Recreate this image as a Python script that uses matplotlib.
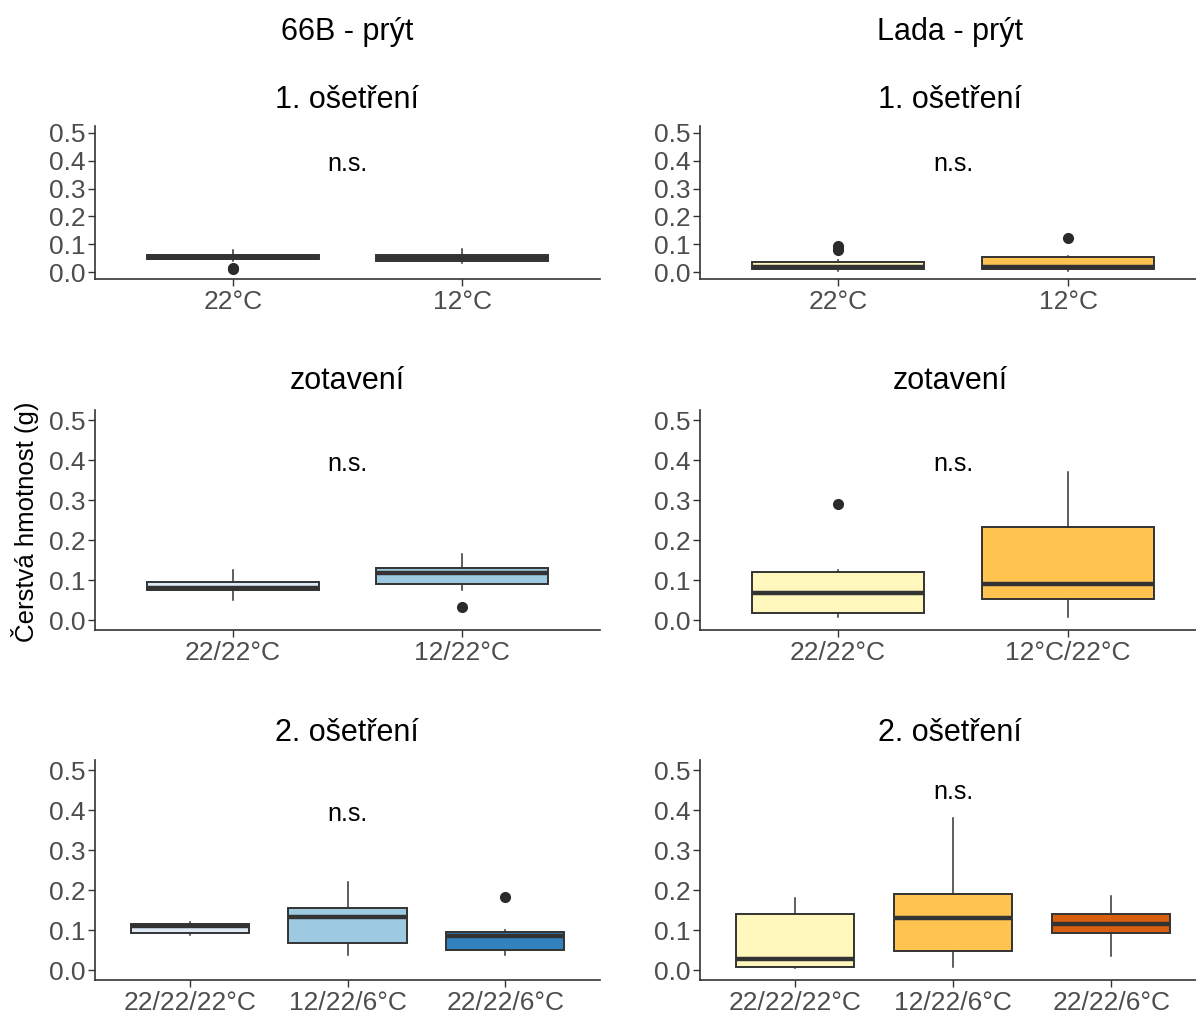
import matplotlib
matplotlib.use("Agg")
import matplotlib.pyplot as plt

plt.rcParams["font.family"] = ["Liberation Sans", "DejaVu Sans"]

# ---- data: fresh weight of shoots (g), box statistics per group ----
# 66B shoot, 1st treatment
b66_1_labels = ["22°C", "12°C"]
b66_1_whislo = [0.038, 0.033]
b66_1_q1 = [0.046, 0.040]
b66_1_med = [0.055, 0.050]
b66_1_q3 = [0.063, 0.062]
b66_1_whishi = [0.078, 0.083]
b66_1_fliers = [[0.010, 0.016], []]

# 66B shoot, recovery
b66_r_labels = ["22/22°C", "12/22°C"]
b66_r_whislo = [0.050, 0.076]
b66_r_q1 = [0.076, 0.091]
b66_r_med = [0.081, 0.118]
b66_r_q3 = [0.095, 0.129]
b66_r_whishi = [0.124, 0.165]
b66_r_fliers = [[], [0.032]]

# 66B shoot, 2nd treatment
b66_2_labels = ["22/22/22°C", "12/22/6°C", "22/22/6°C"]
b66_2_whislo = [0.0875, 0.0375, 0.0375]
b66_2_q1 = [0.0925, 0.0675, 0.050]
b66_2_med = [0.110, 0.133, 0.085]
b66_2_q3 = [0.115, 0.155, 0.096]
b66_2_whishi = [0.120, 0.221, 0.100]
b66_2_fliers = [[], [], [0.183]]

# Lada shoot, 1st treatment
lada_1_labels = ["22°C", "12°C"]
lada_1_whislo = [0.002, 0.005]
lada_1_q1 = [0.012, 0.012]
lada_1_med = [0.018, 0.018]
lada_1_q3 = [0.036, 0.055]
lada_1_whishi = [0.044, 0.058]
lada_1_fliers = [[0.078, 0.085, 0.093], [0.122]]

# Lada shoot, recovery
lada_r_labels = ["22/22°C", "12°C/22°C"]
lada_r_whislo = [0.007, 0.008]
lada_r_q1 = [0.017, 0.052]
lada_r_med = [0.068, 0.090]
lada_r_q3 = [0.120, 0.232]
lada_r_whishi = [0.124, 0.370]
lada_r_fliers = [[0.290], []]

# Lada shoot, 2nd treatment
lada_2_labels = ["22/22/22°C", "12/22/6°C", "22/22/6°C"]
lada_2_whislo = [0.004, 0.008, 0.035]
lada_2_q1 = [0.008, 0.047, 0.093]
lada_2_med = [0.027, 0.131, 0.116]
lada_2_q3 = [0.141, 0.190, 0.139]
lada_2_whishi = [0.181, 0.380, 0.185]
lada_2_fliers = [[], [], []]

blues = ["#DEEBF7", "#9ECAE1", "#3182BD"]
ylorbr = ["#FFF7BC", "#FEC44F", "#D95F0E"]

column_titles = ["66B - prýt", "Lada - prýt"]
row_titles = ["1. ošetření", "zotavení", "2. ošetření"]
ylabel = "Čerstvá hmotnost (g)"
ns_label = "n.s."
ns_y = [[0.39, 0.39, 0.39], [0.39, 0.39, 0.445]]

panels = [
    [
        (b66_1_labels, b66_1_whislo, b66_1_q1, b66_1_med, b66_1_q3, b66_1_whishi, b66_1_fliers),
        (b66_r_labels, b66_r_whislo, b66_r_q1, b66_r_med, b66_r_q3, b66_r_whishi, b66_r_fliers),
        (b66_2_labels, b66_2_whislo, b66_2_q1, b66_2_med, b66_2_q3, b66_2_whishi, b66_2_fliers),
    ],
    [
        (lada_1_labels, lada_1_whislo, lada_1_q1, lada_1_med, lada_1_q3, lada_1_whishi, lada_1_fliers),
        (lada_r_labels, lada_r_whislo, lada_r_q1, lada_r_med, lada_r_q3, lada_r_whishi, lada_r_fliers),
        (lada_2_labels, lada_2_whislo, lada_2_q1, lada_2_med, lada_2_q3, lada_2_whishi, lada_2_fliers),
    ],
]
palettes = [blues, ylorbr]

# ---- layout (pixels) ----
W, H = 1196, 1014
fig = plt.figure(figsize=(W / 100, H / 100), dpi=100)
fig.patch.set_facecolor("white")

# the right column's panel runs slightly past the right edge of the canvas
cols_px = [(95, 600), (700, 1206)]
title_x = [347, 950]
rows_px = [(126, 279), (410, 630), (760, 980)]
row_title_y = [100, 381, 733]
col_title_y = 32

LINE = "#333333"
TICK_TXT = "#4D4D4D"

for ci, (l, r) in enumerate(cols_px):
    fig.text(title_x[ci] / W, 1 - col_title_y / H, column_titles[ci],
             ha="center", va="center", fontsize=22, color="black")
    for ri, (t, b) in enumerate(rows_px):
        ax = fig.add_axes([l / W, 1 - b / H, (r - l) / W, (b - t) / H])
        labels, wlo, q1, med, q3, whi, fl = panels[ci][ri]
        n = len(labels)
        stats = []
        for i in range(n):
            stats.append(dict(whislo=wlo[i], q1=q1[i], med=med[i], q3=q3[i],
                              whishi=whi[i], fliers=fl[i], label=labels[i]))
        bp = ax.bxp(stats, positions=list(range(1, n + 1)), widths=0.75,
                    patch_artist=True, showcaps=False,
                    boxprops=dict(edgecolor=LINE, linewidth=1.4),
                    medianprops=dict(color=LINE, linewidth=3.2, solid_capstyle="butt"),
                    whiskerprops=dict(color=LINE, linewidth=1.1),
                    flierprops=dict(marker="o", markerfacecolor="#2B2B2B",
                                    markeredgecolor="#2B2B2B", markersize=7))
        for i, patch in enumerate(bp["boxes"]):
            patch.set_facecolor(palettes[ci][i])
        ax.set_xlim(0.4, n + 0.6)
        ax.set_ylim(-0.025, 0.525)
        ax.set_yticks([0.0, 0.1, 0.2, 0.3, 0.4, 0.5])
        ax.set_yticklabels(["0.0", "0.1", "0.2", "0.3", "0.4", "0.5"])
        ax.set_xticks(list(range(1, n + 1)))
        ax.set_xticklabels(labels)
        for s in ("top", "right"):
            ax.spines[s].set_visible(False)
        for s in ("left", "bottom"):
            ax.spines[s].set_color(LINE)
            ax.spines[s].set_linewidth(1.2)
        ax.tick_params(axis="both", colors=LINE, length=5, width=1.0,
                       labelsize=19, labelcolor=TICK_TXT)
        ax.tick_params(axis="y", pad=2)
        ax.tick_params(axis="x", pad=3)
        ax.text((n + 1) / 2, ns_y[ci][ri], ns_label, ha="center", va="center",
                fontsize=18, color="black")
        fig.text(title_x[ci] / W, 1 - row_title_y[ri] / H, row_titles[ri],
                 ha="center", va="center", fontsize=22, color="black")

fig.text(25 / W, 1 - 522 / H, ylabel, rotation=90, ha="center", va="center",
         fontsize=18.5, color="black")

fig.savefig("out.png", dpi=100, facecolor="white")
